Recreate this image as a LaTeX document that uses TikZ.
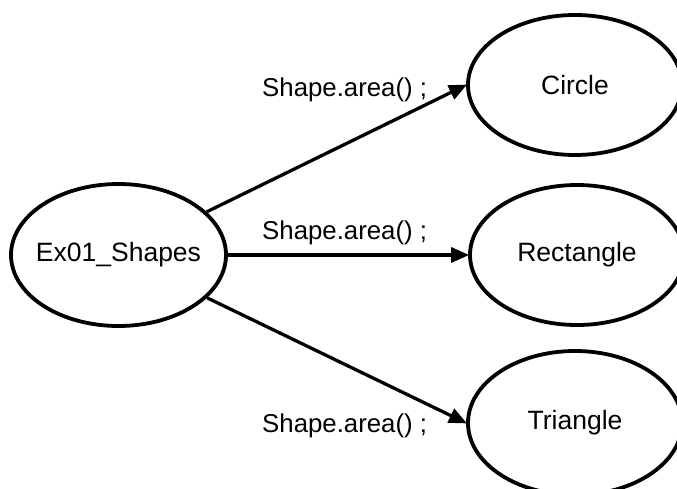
\documentclass[tikz,border=0pt]{standalone}
\usepackage{fontspec}
\setmainfont{Liberation Sans}
\usetikzlibrary{shapes.geometric,arrows.meta}
\tikzset{
  oval/.style={draw=black, line width=3.8pt, ellipse, inner xsep=-40pt, inner ysep=0pt,
    minimum width=214pt, minimum height=140pt, font=\fontsize{26.5}{31}\selectfont},
  callarrow/.style={line width=3.3pt, -{Triangle[length=18pt,width=15pt]}, shorten >=-1pt},
  calltext/.style={anchor=base west, inner sep=0pt, font=\fontsize{25.8}{30}\selectfont}
}
\begin{document}
\begin{tikzpicture}[x=1pt,y=-1pt]
  \useasboundingbox (0,0) rectangle (677,489);
  \clip (0,0) rectangle (677,489);
  % caller and the three implementations
  \node[oval, minimum width=215pt, minimum height=142pt] (main) at (118.5,255) {Ex01\_Shapes};
  \node[oval] (circ) at (575,85) {Circle};
  \node[oval] (rect) at (577,255) {Rectangle};
  \node[oval, minimum height=144pt] (tri) at (575,423) {Triangle};
  % dispatch arrows
  \draw[callarrow] (main) -- (circ.west);
  \draw[callarrow] (main.east) -- (rect.west);
  \draw[callarrow] (main) -- (tri.west);
  % call labels
  \node[calltext] (l1) at (262,97) {Shape.area() ;};
  \node[calltext] (l2) at (262,240) {Shape.area() ;};
  \node[calltext] (l3) at (262,432) {Shape.area() ;};
\end{tikzpicture}
\end{document}
